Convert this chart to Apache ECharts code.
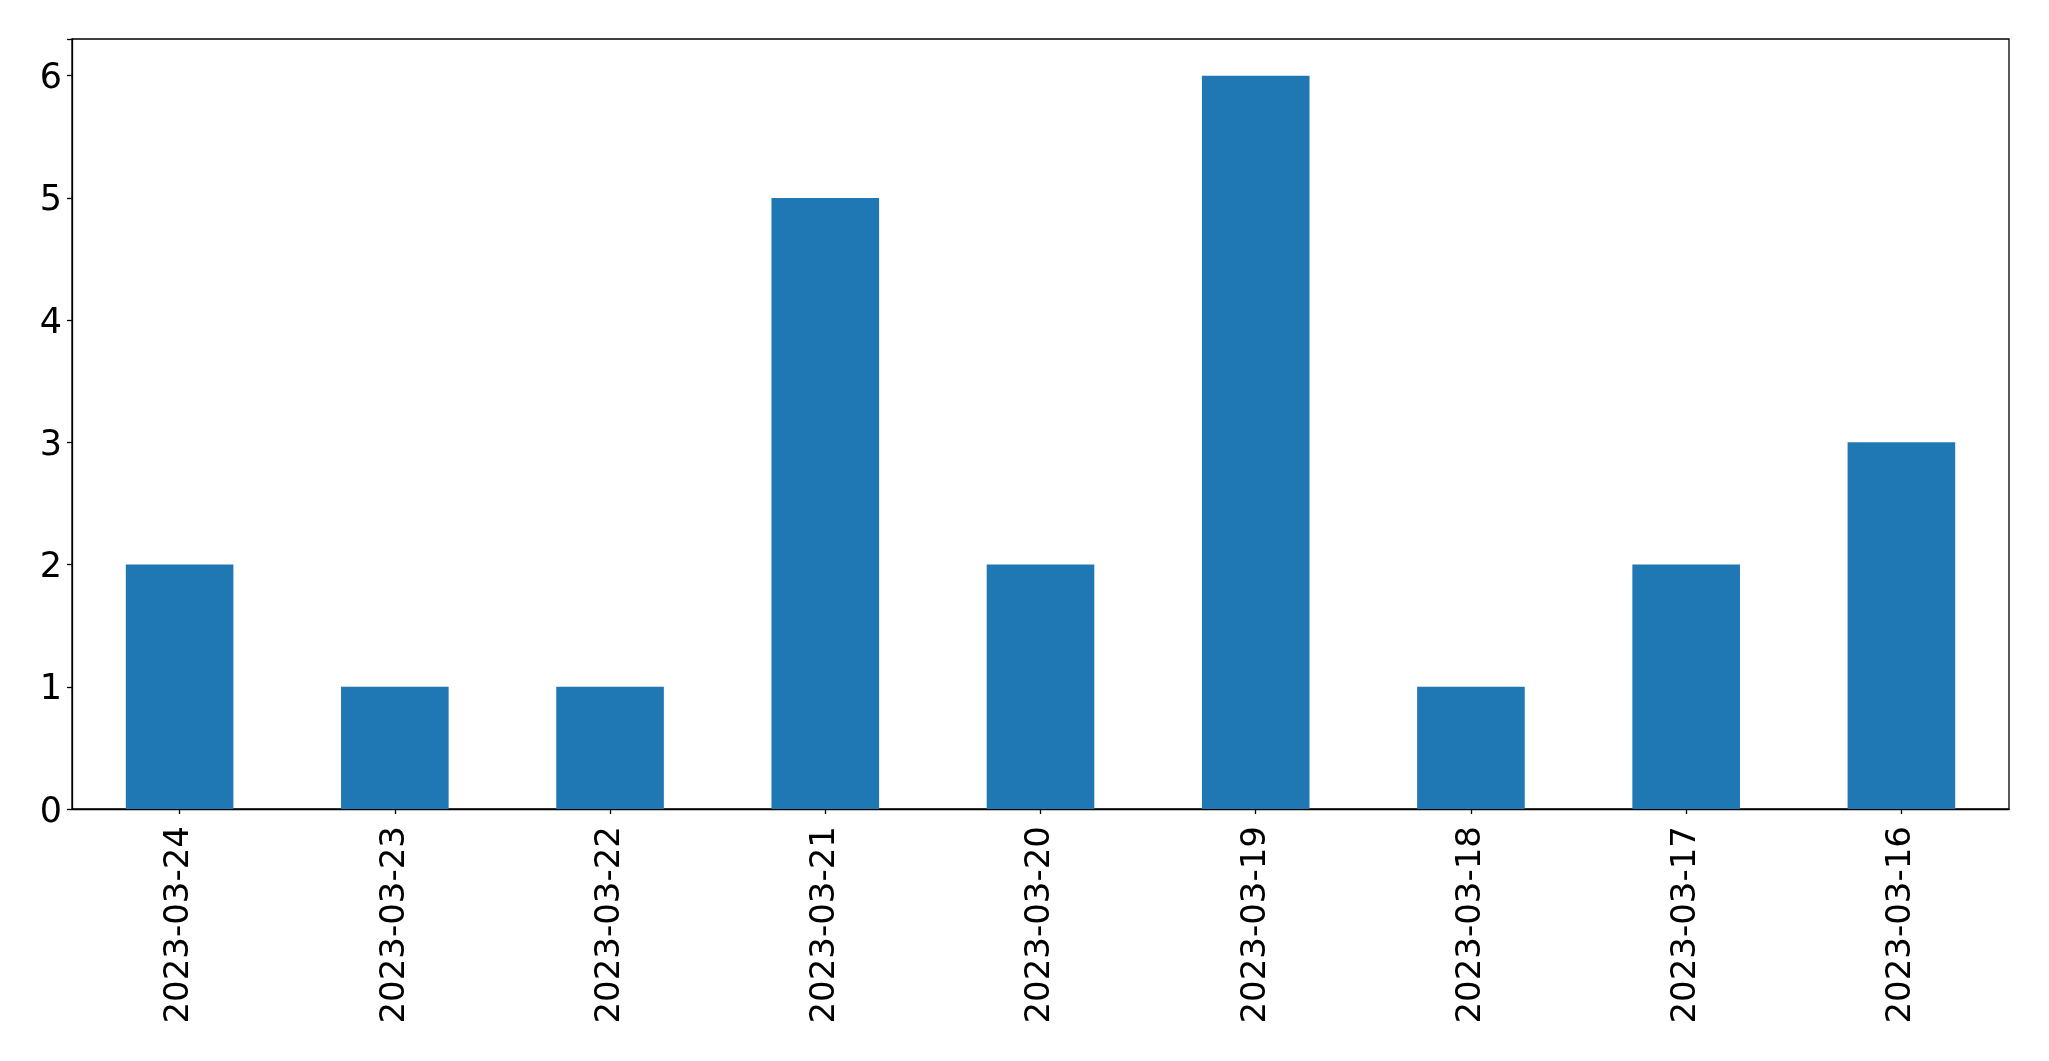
<!DOCTYPE html>
<html><head><meta charset="utf-8">
<script src="https://cdn.jsdelivr.net/npm/echarts@6/dist/echarts.min.js"></script>
<style>html,body{margin:0;padding:0;background:#fff}#c{width:2049px;height:1061px}</style>
</head><body><div id="c"></div>
<script>
const categories = ['2023-03-24','2023-03-23','2023-03-22','2023-03-21','2023-03-20','2023-03-19','2023-03-18','2023-03-17','2023-03-16'];
const values = [2,1,1,5,2,6,1,2,3];
const yTicks = [0,1,2,3,4,5,6];

const chart = echarts.init(document.getElementById('c'), null, {renderer:'canvas'});
const font = 'DejaVu Sans';
chart.setOption({
  animation:false,
  backgroundColor:'#fff',
  grid:{left:72,right:40,top:39,bottom:252,show:true,borderColor:'#000',borderWidth:1.3,containLabel:false},
  xAxis:{type:'category',data:categories,boundaryGap:true,
    axisLine:{show:true,lineStyle:{color:'#000',width:1.3}},
    axisTick:{show:true,alignWithLabel:true,length:5,lineStyle:{color:'#000',width:1.3}},
    axisLabel:{rotate:90,interval:0,margin:17,color:'#000',fontFamily:font,fontSize:34},
    splitLine:{show:false}},
  yAxis:{type:'value',min:0,max:6.3,interval:1,
    axisLine:{show:true,lineStyle:{color:'#000',width:1.3}},
    axisTick:{show:true,length:5,lineStyle:{color:'#000',width:1.3}},
    axisLabel:{margin:10,color:'#000',fontFamily:font,fontSize:35,
      formatter:function(v){return yTicks.indexOf(v)>=0?'{t|'+v+'}':'';},
      rich:{t:{fontFamily:font,fontSize:35,color:'#000',padding:[7,0,0,0]}}},
    splitLine:{show:false}},
  series:[{type:'bar',data:values,barWidth:'50%',itemStyle:{color:'#1f77b4'}}]
});
</script></body></html>
